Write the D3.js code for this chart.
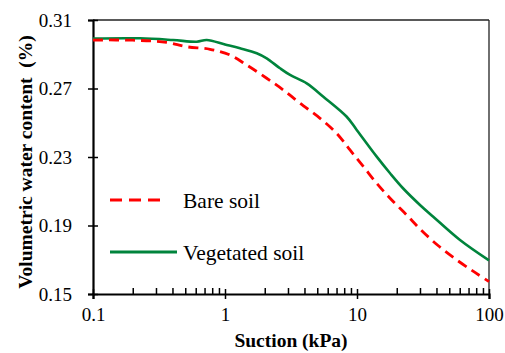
<!DOCTYPE html>
<html>
<head>
<meta charset="utf-8">
<script src="https://cdn.jsdelivr.net/npm/d3@7"></script>
</head>
<body style="margin:0">
<svg id="chart" width="505" height="353"></svg>
<script>
// values
const suctionBare = [0.1, 0.2, 0.36, 0.51, 0.77, 1.09, 1.46, 2.07, 2.77, 3.7, 5.25, 7.02, 8.85, 11.2, 14.1, 17.8, 23.8, 30, 41.1, 56.9, 78.3, 100];
const wcBare = [0.2983, 0.2982, 0.2970, 0.2944, 0.2929, 0.2896, 0.2837, 0.2760, 0.2691, 0.2614, 0.2526, 0.2438, 0.2341, 0.2243, 0.2146, 0.2059, 0.1961, 0.1880, 0.1783, 0.1699, 0.1626, 0.1572];

const suctionVeg = [0.1, 0.227, 0.404, 0.611, 0.727, 1.0, 1.3, 1.74, 2.07, 2.61, 3.11, 4.16, 5.56, 8.36, 9.95, 14.1, 17.8, 22.4, 30, 37.8, 60.3, 100];
const wcVeg = [0.2992, 0.2993, 0.2983, 0.2973, 0.2983, 0.2957, 0.2935, 0.2906, 0.2876, 0.2818, 0.2779, 0.2730, 0.2652, 0.2535, 0.2458, 0.2302, 0.2205, 0.2116, 0.2020, 0.1951, 0.1815, 0.1696];

const xMajor = [0.1, 1, 10, 100];
const xMinor = [0.2, 0.3, 0.4, 0.5, 0.6, 0.7, 0.8, 0.9, 2, 3, 4, 5, 6, 7, 8, 9, 20, 30, 40, 50, 60, 70, 80, 90];
const yTicks = [0.15, 0.19, 0.23, 0.27, 0.31];

const seriesNames = ['Bare soil', 'Vegetated soil'];

const serif = 'Liberation Serif';
const margin = {left: 93, top: 20, right: 16, bottom: 59};
const width = 505 - margin.left - margin.right;
const height = 353 - margin.top - margin.bottom;

// serif text everywhere, forced over any other rule
function serifText(sel, size, bold) {
	sel.attr('font-family', serif)
		.attr('font-size', size)
		.style('font-family', serif, 'important')
		.style('font-size', size + 'px', 'important')
		.style('font-weight', bold ? 'bold' : 'normal', 'important')
		.style('fill', '#000');
	return sel;
}

const svg = d3.select('#chart');
const g = svg.append('g')
	.attr('transform', 'translate(' + margin.left + ',' + margin.top + ')');

const x = d3.scaleLog().domain([0.1, 100]).range([0, width]);
const y = d3.scaleLinear().domain([0.15, 0.31]).range([height, 0]);

// frame top / right
g.append('line')
	.attr('x1', 0).attr('x2', width).attr('y1', 0).attr('y2', 0)
	.style('stroke', '#222').style('stroke-width', 1.3);
g.append('line')
	.attr('x1', width).attr('x2', width).attr('y1', 0).attr('y2', height)
	.style('stroke', '#222').style('stroke-width', 1.3);

// minor x ticks (inside)
g.append('g')
	.attr('transform', 'translate(0,' + height + ')')
	.call(d3.axisBottom(x).tickValues(xMinor).tickSize(-6).tickFormat(''))
	.call((a) => { a.select('.domain').remove(); })
	.selectAll('.tick line').style('stroke', '#000').style('stroke-width', 1.5);

// major x axis
const xAxis = g.append('g')
	.attr('transform', 'translate(0,' + height + ')')
	.call(d3.axisBottom(x).tickValues(xMajor).tickSize(5).tickPadding(9).tickFormat((d) => String(d)));
xAxis.attr('font-family', serif);
xAxis.selectAll('.tick line').attr('y1', -5).style('stroke', '#000').style('stroke-width', 1.5);
xAxis.select('.domain').style('stroke', '#000').style('stroke-width', 2.2);
serifText(xAxis.selectAll('text'), 19, false);

// y axis
const yAxis = g.append('g')
	.call(d3.axisLeft(y).tickValues(yTicks).tickSize(5).tickPadding(16).tickFormat(d3.format('.2f')));
yAxis.attr('font-family', serif);
yAxis.selectAll('.tick line').attr('x1', 5).style('stroke', '#000').style('stroke-width', 1.5);
yAxis.select('.domain').style('stroke', '#000').style('stroke-width', 2.2);
serifText(yAxis.selectAll('text'), 19, false);

// curves
const line = d3.line()
	.x((d) => x(d[0]))
	.y((d) => y(d[1]))
	.curve(d3.curveCatmullRom.alpha(0.5));

const bareData = suctionBare.map((s, i) => [s, wcBare[i]]);
const vegData = suctionVeg.map((s, i) => [s, wcVeg[i]]);

g.append('path')
	.datum(vegData)
	.attr('d', line)
	.style('fill', 'none')
	.style('stroke', '#00843c')
	.style('stroke-width', 2.6);

g.append('path')
	.datum(bareData)
	.attr('d', line)
	.style('fill', 'none')
	.style('stroke', '#ff0000')
	.style('stroke-width', 2.8)
	.style('stroke-dasharray', '10,6');

// legend
const legend = g.append('g').attr('transform', 'translate(17,0)');
const legendRows = [
	{name: seriesNames[0], color: '#ff0000', dash: '12,7', y: 180, len: 56},
	{name: seriesNames[1], color: '#00843c', dash: null, y: 232, len: 67}
];
legendRows.forEach((r) => {
	legend.append('line')
		.attr('x1', 0).attr('x2', r.len)
		.attr('y1', r.y).attr('y2', r.y)
		.style('stroke', r.color)
		.style('stroke-width', 2.8)
		.style('stroke-dasharray', r.dash);
	legend.append('text')
		.attr('x', 73)
		.attr('y', r.y + 7.5)
		.text(r.name)
		.call(serifText, 21.5, false);
});

// axis titles
svg.append('text')
	.attr('x', margin.left + width / 2)
	.attr('y', 347)
	.attr('text-anchor', 'middle')
	.text('Suction (kPa)')
	.call(serifText, 19.5, true);

svg.append('text')
	.attr('transform', 'translate(32,' + 162 + ') rotate(-90)')
	.attr('text-anchor', 'middle')
	.style('white-space', 'pre')
	.text('Volumetric water content  (%)')
	.call(serifText, 19.5, true);
</script>
</body>
</html>
